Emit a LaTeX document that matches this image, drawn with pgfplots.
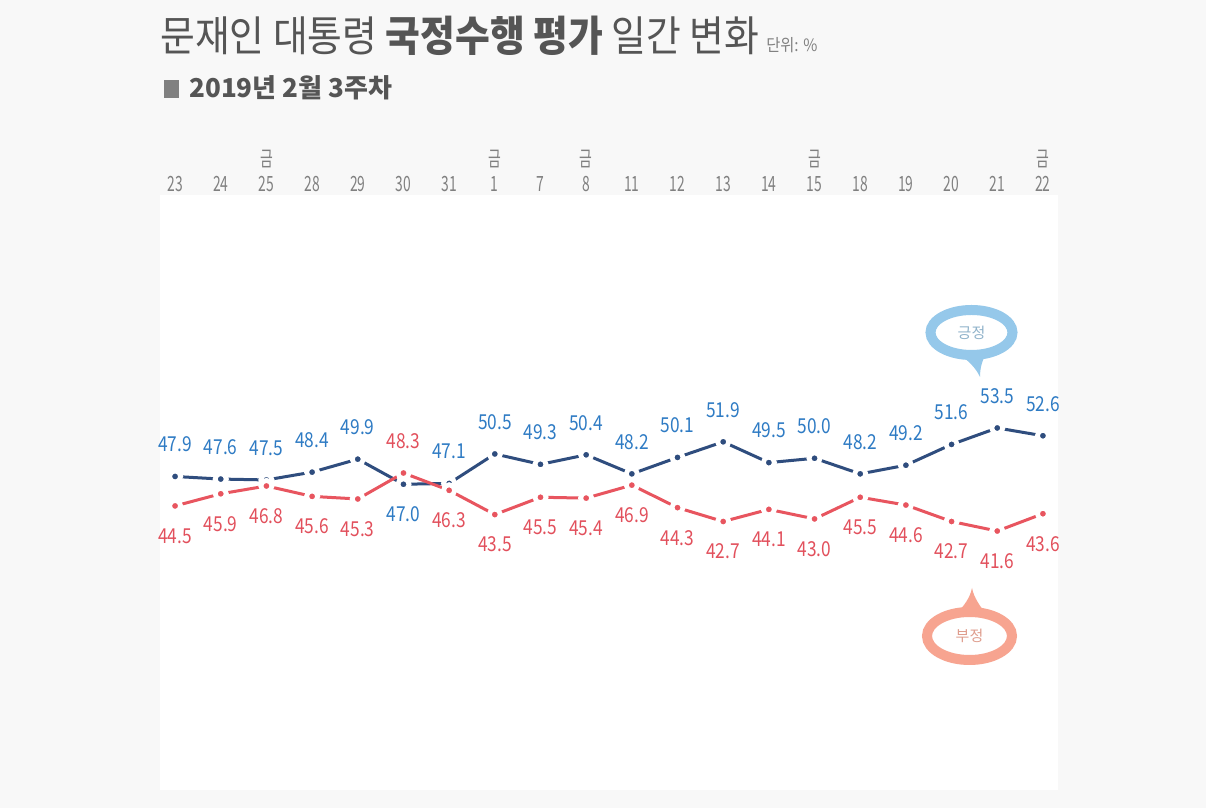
\documentclass[border=0pt]{standalone}
\usepackage{fontspec}
\usepackage{pgfplots}
\usepackage{pgfplotstable}
\pgfplotsset{compat=1.18}
\setmainfont{Noto Sans CJK KR}
\newfontfamily\titlefont[FakeStretch=0.9]{Noto Sans CJK KR}
\newfontfamily\labfont[FakeStretch=0.84]{Noto Sans CJK KR}
\newfontfamily\tickfont[FakeStretch=0.66]{Noto Sans CJK KR}

\definecolor{bg}{HTML}{F8F8F8}
\definecolor{posline}{HTML}{2F4D7E}
\definecolor{poslab}{HTML}{2E7BC4}
\definecolor{negline}{HTML}{E8555F}
\definecolor{neglab}{HTML}{E2505C}
\definecolor{txt}{HTML}{555555}
\definecolor{tick}{HTML}{808080}
\definecolor{bubblue}{HTML}{95C8EA}
\definecolor{bubred}{HTML}{F7A490}

\pgfplotstableread{
x pos neg
0 47.9 44.5
1 47.6 45.9
2 47.5 46.8
3 48.4 45.6
4 49.9 45.3
5 47.0 48.3
6 47.1 46.3
7 50.5 43.5
8 49.3 45.5
9 50.4 45.4
10 48.2 46.9
11 50.1 44.3
12 51.9 42.7
13 49.5 44.1
14 50.0 43.0
15 48.2 45.5
16 49.2 44.6
17 51.6 42.7
18 53.5 41.6
19 52.6 43.6
}\data

\pgfplotstableread{
x y
0 47.9
1 47.6
2 47.5
3 48.4
4 49.9
6 47.1
7 50.5
8 49.3
9 50.4
10 48.2
11 50.1
12 51.9
13 49.5
14 50.0
15 48.2
16 49.2
17 51.6
18 53.5
19 52.6
}\posabove

\pgfplotstableread{
x y
5 47.0
}\posbelow

\pgfplotstableread{
x y
0 44.5
1 45.9
2 46.8
3 45.6
4 45.3
6 46.3
7 43.5
8 45.5
9 45.4
10 46.9
11 44.3
12 42.7
13 44.1
14 43.0
15 45.5
16 44.6
17 42.7
18 41.6
19 43.6
}\negbelow

\pgfplotstableread{
x y
5 48.3
}\negabove

\pgfplotsset{
  vlab/.style={draw=none, mark=none, point meta=explicit,
    nodes near coords={\pgfmathprintnumber[fixed,fixed zerofill,precision=1,assume math mode=true]{\pgfplotspointmeta}},
    every node near coord/.append style={inner sep=0pt, font=\labfont\fontsize{10.3}{12}\selectfont}},
  labup/.style={vlab, every node near coord/.append style={anchor=south, yshift=12pt}},
  labdn/.style={vlab, every node near coord/.append style={anchor=north, yshift=-11pt}},
}

\begin{document}
\begin{tikzpicture}[x=1pt,y=1pt]
\useasboundingbox (0,0) rectangle (603,404);
\fill[bg] (0,0) rectangle (603,404);

% titles
\node[anchor=base west, inner sep=0pt, text=txt, font=\titlefont\fontsize{21}{24}\selectfont] at (80,378)
  {문재인 대통령 \textbf{국정수행 평가} 일간 변화\,{\fontsize{8.5}{9}\selectfont\color{tick}단위: \%}};
\node[anchor=base west, inner sep=0pt, text=txt, font=\fontsize{13}{15}\selectfont\bfseries] at (82,355)
  {{\color{tick}\rule{7.5pt}{9pt}}\hspace{5pt}2019년 2월 3주차};

\begin{axis}[
  at={(80pt,9pt)}, anchor=south west,
  scale only axis, width=449pt, height=297.5pt,
  xmin=-0.33, xmax=19.33, ymin=11.7, ymax=80.4,
  axis background/.style={fill=white},
  axis line style={draw=none},
  major tick length=0pt,
  ytick=\empty,
  xtick={0,...,19},
  xticklabel pos=top,
  xticklabels={23,24,{금\\25},28,29,30,31,{금\\1},7,{금\\8},11,12,13,14,{금\\15},18,19,20,21,{금\\22}},
  xticklabel style={font=\tickfont\fontsize{10.5}{12.5}\selectfont, text=tick, align=center, anchor=south, yshift=-2pt},
  clip=false,
]
\addplot[posline, line width=1.5pt, mark=*, mark size=2.8pt,
  mark options={fill=posline, draw=white, line width=2.4pt}]
  table[x=x, y=pos] {\data};
\addplot[negline, line width=1.5pt, mark=*, mark size=2.8pt,
  mark options={fill=negline, draw=white, line width=2.4pt}]
  table[x=x, y=neg] {\data};
% value labels
\addplot[labup, every node near coord/.append style={text=poslab}] table[x=x, y=y, meta=y] {\posabove};
\addplot[labdn, every node near coord/.append style={text=poslab}] table[x=x, y=y, meta=y] {\posbelow};
\addplot[labdn, every node near coord/.append style={text=neglab}] table[x=x, y=y, meta=y] {\negbelow};
\addplot[labup, every node near coord/.append style={text=neglab}] table[x=x, y=y, meta=y] {\negabove};
\end{axis}

% bubbles
\draw[bubblue, line width=5pt] (485.75,237.75) ellipse (20.5 and 11.25);
\fill[bubblue] (478,228) .. controls (484,224) and (488,220) .. (490,215.5) .. controls (490,220) and (491,224) .. (494,229) -- cycle;
\node[text=bubblue!70!gray, font=\fontsize{7.5}{8}\selectfont] at (485.75,237.75) {긍정};

\draw[bubred, line width=5pt] (484.75,86) ellipse (21.25 and 12);
\fill[bubred] (478,97) .. controls (482,101) and (485,105) .. (486,110) .. controls (487,105) and (490,101) .. (493,97) -- cycle;
\node[text=bubred!80!gray, font=\fontsize{7.5}{8}\selectfont] at (484.75,86) {부정};
\end{tikzpicture}
\end{document}
